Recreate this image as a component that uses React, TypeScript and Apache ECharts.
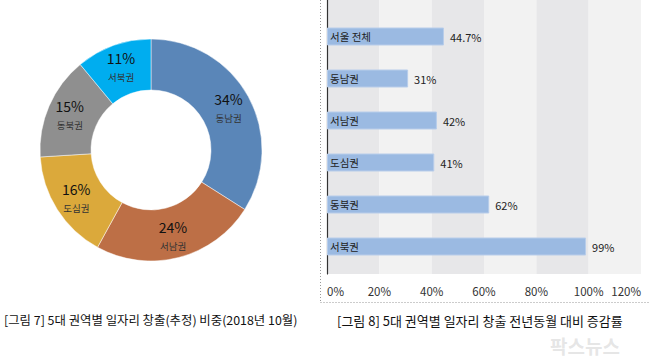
import React, { useEffect, useRef } from "react";
import * as echarts from "echarts";

const pieNames = ["동남권", "서남권", "도심권", "동북권", "서북권"];
const pieValues = [34, 24, 16, 15, 11];
const pieColors = ["#5A86B8", "#BD6F46", "#DBA93B", "#8F8F8F", "#00ADEF"];

const barCategories = ["서울 전체", "동남권", "서남권", "도심권", "동북권", "서북권"];
const barValues = [44.7, 31, 42, 41, 62, 99];
const xTicks = [0, 20, 40, 60, 80, 100, 120];

const caption1 = "[그림 7] 5대 권역별 일자리 창출(추정) 비중(2018년 10월)";
const caption2 = "[그림 8] 5대 권역별 일자리 창출 전년동월 대비 증감률";
const watermark = "팍스뉴스";

const FONT = "'Noto Sans CJK KR', 'Noto Sans', sans-serif";

export default function App() {
  const ref = useRef<HTMLDivElement>(null);
  useEffect(() => {
    if (!ref.current) return;
    const chart = echarts.init(ref.current, undefined, { renderer: "svg" });
    const option: any = {
      animation: false,
      backgroundColor: "#ffffff",
      textStyle: { fontFamily: FONT },
      grid: [
        { left: 327, width: 314, top: 0, height: 274 },
        { left: 327, width: 314, top: 15.5, height: 252 },
      ],
      xAxis: [
        {
          type: "value",
          gridIndex: 0,
          min: xTicks[0],
          max: xTicks[xTicks.length - 1],
          interval: 20,
          axisLine: { show: false },
          axisTick: { show: false },
          splitLine: { show: false },
          splitArea: { show: true, areaStyle: { color: ["#E7E7E9", "#F2F2F2"] } },
          axisLabel: {
            formatter: "{value}%",
            color: "#333",
            fontSize: 11.5,
            fontFamily: FONT,
            margin: 11,
            alignMinLabel: "left",
            alignMaxLabel: "right",
          },
        },
        {
          type: "value",
          gridIndex: 1,
          min: 0,
          max: 120,
          show: false,
        },
      ],
      yAxis: [
        {
          type: "value",
          gridIndex: 0,
          axisLine: { show: true, lineStyle: { color: "#333", width: 1.2 } },
          axisTick: { show: false },
          axisLabel: { show: false },
          splitLine: { show: false },
        },
        {
          type: "category",
          gridIndex: 1,
          data: barCategories,
          inverse: true,
          z: 10,
          axisLine: { show: false },
          axisTick: { show: false },
          axisLabel: {
            inside: true,
            margin: 3,
            color: "#222",
            fontSize: 10.5,
            fontFamily: FONT,
          },
        },
      ],
      series: [
        {
          type: "pie",
          center: [151, 150],
          radius: [60, 111],
          startAngle: 90,
          clockwise: true,
          avoidLabelOverlap: false,
          itemStyle: { borderColor: "rgba(255,255,255,0.6)", borderWidth: 0.8 },
          label: {
            show: true,
            position: "inside",
            formatter: (p: any) => `{p|${p.value}%}\n{n|${p.name}}`,
            rich: {
              p: { fontSize: 14, color: "#111", fontFamily: FONT, lineHeight: 21 },
              n: { fontSize: 9.5, color: "#333", fontFamily: FONT, lineHeight: 17 },
            },
          },
          labelLine: { show: false },
          data: pieNames.map((n, i) => ({
            name: n,
            value: pieValues[i],
            itemStyle: { color: pieColors[i] },
          })),
        },
        {
          type: "bar",
          xAxisIndex: 1,
          yAxisIndex: 1,
          data: barValues,
          barWidth: 18,
          itemStyle: { color: "#9BBAE2", borderColor: "#B8CDEA", borderWidth: 1 },
          label: {
            show: true,
            position: "right",
            distance: 6,
            formatter: (p: any) => `${p.value}%`,
            color: "#222",
            fontSize: 11,
            fontFamily: FONT,
          },
        },
      ],
      graphic: [
        {
          type: "line",
          shape: { x1: 320.5, y1: 0, x2: 320.5, y2: 302.5 },
          style: { stroke: "#999", lineWidth: 1, lineDash: [1, 2] },
        },
        {
          type: "line",
          shape: { x1: 320.5, y1: 302.5, x2: 650, y2: 302.5 },
          style: { stroke: "#999", lineWidth: 1, lineDash: [1, 2] },
        },
        {
          type: "text",
          x: 4,
          y: 320,
          style: {
            text: caption1,
            font: `12.4px ${FONT}`,
            fill: "#111",
            textVerticalAlign: "middle",
          },
        },
        {
          type: "text",
          x: 337,
          y: 320,
          style: {
            text: caption2,
            font: `13px ${FONT}`,
            fill: "#111",
            textVerticalAlign: "middle",
          },
        },
        {
          type: "text",
          x: 585,
          y: 345,
          z: -1,
          style: {
            text: watermark,
            font: `bold 19px ${FONT}`,
            fill: "rgba(190,190,190,0.4)",
            textAlign: "center",
            textVerticalAlign: "middle",
          },
        },
      ],
    };
    chart.setOption(option);
    return () => chart.dispose();
  }, []);
  return (
    <div
      ref={ref}
      style={{ position: "fixed", left: 0, top: 0, width: 650, height: 360 }}
    />
  );
}
